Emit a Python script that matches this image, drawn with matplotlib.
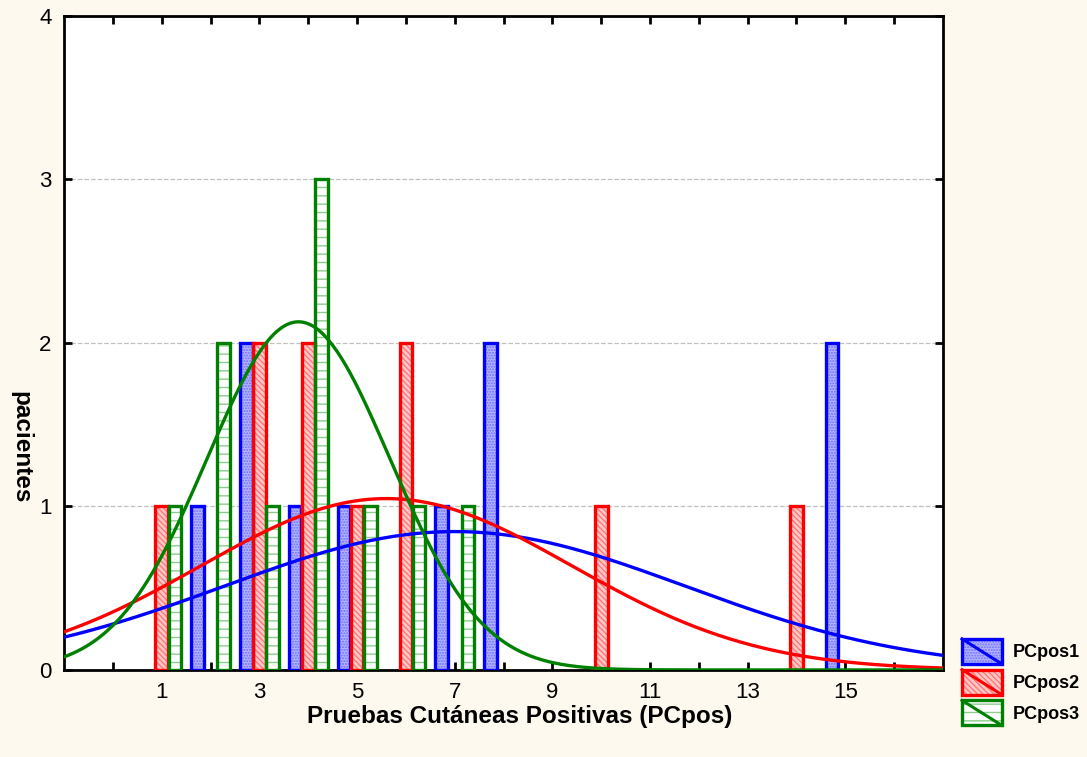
import numpy as np
import matplotlib.pyplot as plt
from matplotlib.patches import Patch, Rectangle
from matplotlib.lines import Line2D
from matplotlib.legend_handler import HandlerBase

plt.rcParams['font.family'] = ['Liberation Sans', 'DejaVu Sans']
plt.rcParams['hatch.linewidth'] = 1.0

# number of positive skin tests (x) and patients per series
valores = list(range(1, 16))
pcpos1 = [0, 1, 2, 1, 1, 0, 1, 2, 0, 0, 0, 0, 0, 0, 2]
pcpos2 = [1, 0, 2, 2, 1, 2, 0, 0, 0, 1, 0, 0, 0, 1, 0]
pcpos3 = [1, 2, 1, 3, 1, 1, 1, 0, 0, 0, 0, 0, 0, 0, 0]
nombres = ['PCpos1', 'PCpos2', 'PCpos3']

colores = ['#0000ff', '#ff0000', '#008000']
rellenos = ['#b4b4ff', '#ffc8c8', 'white']
tramas = ['......', '\\\\\\\\\\\\', '--']
color_trama = ['#6e6eff', '#ff7878', '#8ccc8c']
desplaz = [-0.27, 0.0, 0.27]
ancho = 0.26


class HandlerBarra(HandlerBase):
    # legend key: hatched box with a diagonal stroke
    def __init__(self, col, rel, tr, ct):
        super().__init__()
        self.col, self.rel, self.tr, self.ct = col, rel, tr, ct

    def create_artists(self, legend, orig_handle, xdescent, ydescent, width, height,
                       fontsize, trans):
        x0, y0 = -xdescent, -ydescent
        fondo = Rectangle((x0, y0), width, height, facecolor=self.rel, edgecolor=self.ct,
                          hatch=self.tr, linewidth=0, transform=trans)
        diag = Line2D([x0, x0 + width], [y0 + height, y0], color=self.col, linewidth=2.2,
                      transform=trans)
        borde = Rectangle((x0, y0), width, height, fill=False, edgecolor=self.col,
                          linewidth=2.4, transform=trans)
        return [fondo, diag, borde]


fig = plt.figure(figsize=(10.87, 7.57), dpi=100, facecolor='#fdf9ee')
ax = fig.add_axes([0.059, 0.115, 0.8085, 0.864])
ax.set_facecolor('white')

xs = np.linspace(-1, 17, 400)
for serie, col, rel, tr, ct, dx in zip([pcpos1, pcpos2, pcpos3], colores, rellenos,
                                       tramas, color_trama, desplaz):
    x = np.array([v + dx for v, n in zip(valores, serie) if n > 0])
    h = np.array([n for n in serie if n > 0])
    ax.bar(x, h, width=ancho, color=rel, edgecolor=ct, hatch=tr, linewidth=0, zorder=2)
    ax.bar(x, h, width=ancho, fill=False, edgecolor=col, linewidth=2.4, zorder=3)

    # fitted normal curve (scaled to counts)
    datos = np.repeat(valores, serie)
    m = datos.mean()
    s = datos.std(ddof=1)
    y = len(datos) * np.exp(-0.5 * ((xs - m) / s) ** 2) / (s * np.sqrt(2 * np.pi))
    ax.plot(xs, y, color=col, linewidth=2.4, zorder=4)

ax.set_xlim(-1, 17)
ax.set_ylim(0, 4)
ax.set_xticks(range(0, 17))
ax.set_xticklabels([str(v) if v % 2 == 1 else '' for v in range(0, 17)])
ax.set_yticks([0, 1, 2, 3, 4])
ax.tick_params(direction='in', top=True, right=True, length=6, width=2,
               labelsize=16, pad=9)
for sp in ax.spines.values():
    sp.set_linewidth(2)
for yv in [1, 2, 3]:
    ax.axhline(yv, color='#c0c0c0', linestyle='--', linewidth=0.9, zorder=1)

ax.set_xlabel('Pruebas Cutáneas Positivas (PCpos)', fontsize=17.5, fontweight='bold')
ax.xaxis.set_label_coords(0.518, -0.053)
ax.set_ylabel('pacientes', fontsize=17.5, fontweight='bold', rotation=270,
              va='center', ha='center')
ax.yaxis.set_label_coords(-0.049, 0.341)

handles = [Patch(facecolor=rel, edgecolor=col) for col, rel in zip(colores, rellenos)]
mapa = {h: HandlerBarra(col, rel, tr, ct)
        for h, col, rel, tr, ct in zip(handles, colores, rellenos, tramas, color_trama)}
fig.legend(handles, nombres, handler_map=mapa, loc='upper left',
           bbox_to_anchor=(0.885, 0.156), frameon=False,
           prop={'weight': 'bold', 'size': 13},
           handlelength=2.2, handleheight=1.75, labelspacing=0.32, handletextpad=0.6,
           borderaxespad=0, borderpad=0)

fig.savefig('out.png', dpi=100, facecolor=fig.get_facecolor())
